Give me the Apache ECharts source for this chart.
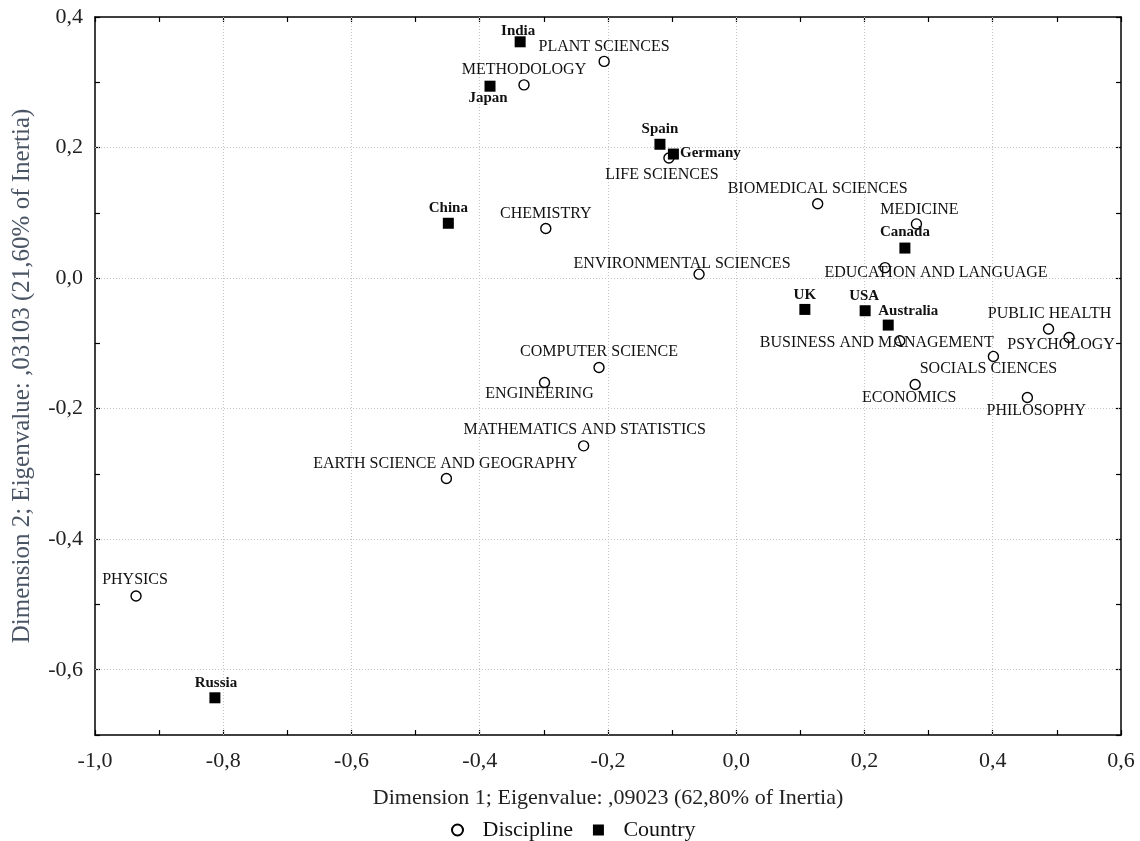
<!DOCTYPE html>
<html>
<head>
<meta charset="utf-8">
<title>Correspondence analysis: Discipline × Country</title>
<script src="https://cdn.jsdelivr.net/npm/echarts@6/dist/echarts.min.js"></script>
<style>
  html, body { margin: 0; padding: 0; background: #fff; }
  #chart { width: 1140px; height: 841px; }
</style>
</head>
<body>
<div id="chart"></div>
<script>
// Row points (disciplines)
const disciplineNames = [
  'PLANT SCIENCES', 'METHODOLOGY', 'LIFE SCIENCES', 'BIOMEDICAL SCIENCES', 'CHEMISTRY',
  'MEDICINE', 'ENVIRONMENTAL SCIENCES', 'EDUCATION AND LANGUAGE', 'BUSINESS AND MANAGEMENT',
  'PUBLIC HEALTH', 'PSYCHOLOGY', 'SOCIALS CIENCES', 'ECONOMICS', 'PHILOSOPHY',
  'COMPUTER SCIENCE', 'ENGINEERING', 'MATHEMATICS AND STATISTICS',
  'EARTH SCIENCE AND GEOGRAPHY', 'PHYSICS'
];
const disciplineDim1 = [
  -0.206, -0.331, -0.105, 0.127, -0.297,
  0.281, -0.058, 0.232, 0.255,
  0.487, 0.519, 0.401, 0.279, 0.454,
  -0.214, -0.299, -0.238,
  -0.452, -0.936
];
const disciplineDim2 = [
  0.332, 0.296, 0.184, 0.114, 0.076,
  0.083, 0.006, 0.016, -0.096,
  -0.078, -0.091, -0.120, -0.163, -0.183,
  -0.137, -0.160, -0.257,
  -0.307, -0.487
];

// Column points (countries)
const countryNames = ['India', 'Japan', 'Spain', 'Germany', 'China', 'Canada', 'UK', 'USA', 'Australia', 'Russia'];
const countryDim1 = [-0.337, -0.384, -0.119, -0.098, -0.449, 0.263, 0.107, 0.201, 0.237, -0.813];
const countryDim2 = [0.362, 0.294, 0.205, 0.190, 0.084, 0.046, -0.048, -0.050, -0.072, -0.643];

// Axis tick labels (every 0.2)
const xTickLabels = ['-1,0', '-0,8', '-0,6', '-0,4', '-0,2', '0,0', '0,2', '0,4', '0,6'];
const yTickLabels = ['-0,6', '-0,4', '-0,2', '0,0', '0,2', '0,4'];
const xGridValues = [-0.8, -0.6, -0.4, -0.2, 0.0, 0.2, 0.4];
const yGridValues = [-0.6, -0.4, -0.2, 0.0, 0.2];

const xAxisTitle = 'Dimension 1; Eigenvalue: ,09023 (62,80% of Inertia)';
const yAxisTitle = 'Dimension 2; Eigenvalue: ,03103 (21,60% of Inertia)';

// Label placement around each marker, in pixels [dx, dy] from the marker centre
const labelOffset = {
  'PLANT SCIENCES': [0, -15], 'METHODOLOGY': [0, -15], 'LIFE SCIENCES': [-7, 17],
  'BIOMEDICAL SCIENCES': [0, -15], 'CHEMISTRY': [0, -15], 'MEDICINE': [3, -14],
  'ENVIRONMENTAL SCIENCES': [-17, -10], 'EDUCATION AND LANGUAGE': [51, 5],
  'BUSINESS AND MANAGEMENT': [-23, 2], 'PUBLIC HEALTH': [1, -15], 'PSYCHOLOGY': [-8, 7],
  'SOCIALS CIENCES': [-5, 12], 'ECONOMICS': [-6, 13], 'PHILOSOPHY': [9, 13],
  'COMPUTER SCIENCE': [0, -16], 'ENGINEERING': [-5, 11], 'MATHEMATICS AND STATISTICS': [1, -16],
  'EARTH SCIENCE AND GEOGRAPHY': [-1, -15], 'PHYSICS': [-1, -16],
  'India': [-2, -11], 'Japan': [-2, 12], 'Spain': [0, -15], 'Germany': [37, -1],
  'China': [0, -15], 'Canada': [0, -16], 'UK': [0, -14], 'USA': [-1, -15],
  'Australia': [20, -14], 'Russia': [1, -15]
};

const SERIF = "'Liberation Serif', 'Times New Roman', serif";
const X_MIN = -1.0, X_MAX = 0.6, Y_MIN = -0.7, Y_MAX = 0.4;

function tickText(labels, first) {
  return function (v) {
    const k = Math.round(v * 10);
    if (k % 2 !== 0) return '';
    const idx = (k - first) / 2;
    return labels[idx] !== undefined ? labels[idx] : '';
  };
}

function pointData(names, xs, ys) {
  return names.map((n, i) => ({
    name: n,
    value: [xs[i], ys[i]],
    label: { offset: labelOffset[n] || [0, -15] }
  }));
}

const frameLine = { show: true, onZero: false, lineStyle: { color: '#000', width: 1.5 } };
const innerTick = { show: true, inside: true, length: 5, lineStyle: { color: '#000', width: 1.2 } };

const chart = echarts.init(document.getElementById('chart'), null, { renderer: 'canvas' });

chart.setOption({
  backgroundColor: '#fff',
  animation: false,
  textStyle: { fontFamily: SERIF },
  grid: { left: 95, right: 19, top: 17, bottom: 106, containLabel: false },
  legend: {
    data: [
      { name: 'Discipline', icon: 'circle' },
      { name: 'Country', icon: 'path://M0,0L10,0L10,10L0,10Z' }
    ],
    left: 446,
    top: 814,
    itemWidth: 40,
    itemHeight: 11,
    itemGap: 20,
    symbolKeepAspect: true,
    selectedMode: false,
    textStyle: { fontFamily: SERIF, fontSize: 22, color: '#111' }
  },
  xAxis: [
    {
      type: 'value', min: X_MIN, max: X_MAX, interval: 0.1, position: 'bottom',
      axisLine: frameLine, axisTick: innerTick, splitLine: { show: false },
      axisLabel: { formatter: tickText(xTickLabels, -10), fontFamily: SERIF, fontSize: 22, color: '#222', margin: 15 },
      name: xAxisTitle, nameLocation: 'middle', nameGap: 52,
      nameTextStyle: { fontFamily: SERIF, fontSize: 22, color: '#222' }
    },
    {
      type: 'value', min: X_MIN, max: X_MAX, interval: 0.1, position: 'top',
      axisLine: frameLine, axisTick: innerTick, splitLine: { show: false },
      axisLabel: { show: false }
    }
  ],
  yAxis: [
    {
      type: 'value', min: Y_MIN, max: Y_MAX, interval: 0.1, position: 'left',
      axisLine: frameLine, axisTick: innerTick, splitLine: { show: false },
      axisLabel: { formatter: tickText(yTickLabels, -6), fontFamily: SERIF, fontSize: 22, color: '#222', margin: 12 },
      name: yAxisTitle, nameLocation: 'middle', nameGap: 60,
      nameTextStyle: { fontFamily: SERIF, fontSize: 25, color: '#4a5566' }
    },
    {
      type: 'value', min: Y_MIN, max: Y_MAX, interval: 0.1, position: 'right',
      axisLine: frameLine, axisTick: innerTick, splitLine: { show: false },
      axisLabel: { show: false }
    }
  ],
  series: [
    {
      // dotted reference grid at every 0.2
      type: 'scatter', name: 'grid', data: [], silent: true, z: 1,
      markLine: {
        silent: true, symbol: 'none', animation: false, z: 1,
        label: { show: false },
        lineStyle: { color: '#c4c4c4', width: 1, type: [1, 2] },
        data: xGridValues.map(v => ({ xAxis: v })).concat(yGridValues.map(v => ({ yAxis: v })))
      }
    },
    {
      type: 'scatter', name: 'Discipline', z: 3,
      symbol: 'circle', symbolSize: 10,
      itemStyle: { color: '#fff', borderColor: '#000', borderWidth: 1.4, opacity: 1 },
      label: {
        show: true, position: 'inside', formatter: '{b}',
        fontFamily: SERIF, fontSize: 16, color: '#111', textBorderWidth: 0
      },
      data: pointData(disciplineNames, disciplineDim1, disciplineDim2)
    },
    {
      type: 'scatter', name: 'Country', z: 4,
      symbol: 'rect', symbolSize: 11,
      itemStyle: { color: '#000', opacity: 1 },
      label: {
        show: true, position: 'inside', formatter: '{b}',
        fontFamily: SERIF, fontSize: 15, fontWeight: 'bold', color: '#111', textBorderWidth: 0
      },
      data: pointData(countryNames, countryDim1, countryDim2)
    }
  ]
});
</script>
</body>
</html>
